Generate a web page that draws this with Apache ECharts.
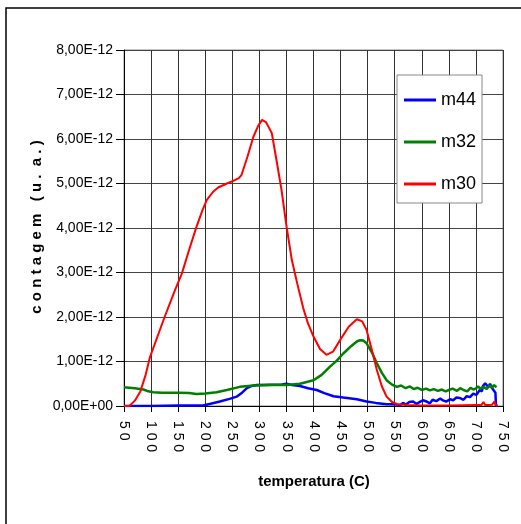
<!DOCTYPE html>
<html>
<head>
<meta charset="utf-8">
<script src="https://cdn.jsdelivr.net/npm/echarts@6/dist/echarts.min.js"></script>
<style>html,body{margin:0;padding:0;background:#fff}#c{width:521px;height:524px}</style>
</head>
<body>
<div id="c"></div>
<script>
// values in units of 1E-12
const seriesNames = ['m44', 'm32', 'm30'];
const m44T = [50,100,150,196,210,227,245,258,268,277,286,295,320,340,350,360,375,390,406,420,437,455,480,498,515,535,550,560,566,570,577,584,590,595,602,609,615,620,627,634,640,645,652,658,664,670,677,683,689,695,701,707,711,713,717,720,723,726,730,733,736,737,740];
const m44V = [0,0,0.01,0.01,0.05,0.1,0.16,0.21,0.3,0.4,0.45,0.47,0.48,0.48,0.5,0.47,0.45,0.4,0.36,0.29,0.22,0.19,0.15,0.1,0.07,0.04,0.04,0.02,0.07,0.03,0.09,0.1,0.05,0.08,0.13,0.1,0.06,0.14,0.11,0.17,0.12,0.1,0.15,0.13,0.19,0.18,0.14,0.22,0.2,0.28,0.25,0.36,0.33,0.45,0.51,0.54,0.42,0.5,0.4,0.35,0.3,0.02,0];
const m32T = [50,60,70,86,95,104,120,153,170,184,200,221,240,264,290,326,350,375,400,415,430,443,455,470,480,486,492,498,508,517,526,535,545,554,562,570,578,585,592,600,608,615,622,630,637,644,650,657,665,671,677,684,690,696,700,704,708,714,720,725,730,733,736,738];
const m32V = [0.42,0.41,0.4,0.37,0.33,0.31,0.3,0.3,0.29,0.27,0.28,0.31,0.36,0.43,0.46,0.47,0.47,0.5,0.58,0.7,0.88,1.02,1.18,1.35,1.45,1.48,1.47,1.41,1.2,0.96,0.75,0.58,0.48,0.43,0.46,0.4,0.44,0.38,0.41,0.36,0.39,0.35,0.38,0.34,0.37,0.33,0.36,0.39,0.34,0.4,0.36,0.33,0.41,0.37,0.4,0.44,0.39,0.43,0.38,0.46,0.41,0.47,0.43,0.42];
const m30T = [50,60,70,80,90,98,110,125,144,157,170,184,195,203,215,224,240,252,262,267,278,289,298,305,312,318,323,332,341,350,360,370,381,390,400,412,424,436,449,465,480,490,498,508,517,526,535,545,555,575,600,650,700,710,714,717,722,730,734,736,738,740];
const m30V = [0,0,0.12,0.32,0.7,1.1,1.5,2.0,2.6,2.98,3.5,4.03,4.4,4.63,4.82,4.91,5.0,5.06,5.12,5.19,5.6,6.05,6.3,6.43,6.38,6.25,6.13,5.5,4.85,4.05,3.28,2.75,2.2,1.85,1.56,1.28,1.15,1.22,1.48,1.78,1.95,1.9,1.71,1.25,0.81,0.45,0.21,0.09,0.04,0.02,0.01,0.01,0.02,0.02,0.09,0.02,0.02,0.03,0.1,0.03,0.01,0];
const xTicks = [50,100,150,200,250,300,350,400,450,500,550,600,650,700,750];
const yTicks = [0,1,2,3,4,5,6,7,8];

const pairs = (t, v) => t.map((x, i) => [x, v[i]]);
const font = 'Arial, "Liberation Sans", sans-serif';

const chart = echarts.init(document.getElementById('c'), null, {renderer: 'canvas'});
chart.setOption({
  animation: false,
  backgroundColor: '#fff',
  grid: {left: 124, top: 50, right: 18, bottom: 118, show: true, borderColor: '#888', borderWidth: 1, backgroundColor: 'transparent'},
  graphic: [
    {type: 'rect', z: -10, shape: {x: 6, y: 8, width: 700, height: 700}, style: {fill: 'none', stroke: '#000', lineWidth: 1.5}},
    {type: 'text', x: 37, y: 227, rotation: Math.PI / 2, style: {text: 'c o n t a g e m   ( u .  a . )', font: 'bold 15px ' + font, fill: '#000', align: 'center', verticalAlign: 'middle'}},
    {type: 'text', x: 314, y: 482, style: {text: 'temperatura (C)', font: 'bold 15px ' + font, fill: '#000', align: 'center', verticalAlign: 'middle'}}
  ],
  legend: {
    data: seriesNames,
    orient: 'vertical', left: 397, top: 75,
    padding: [16, 6, 10, 7],
    icon: 'rect',
    itemWidth: 32, itemHeight: 3, itemGap: 24,
    backgroundColor: '#fff', borderColor: '#888', borderWidth: 1, borderRadius: 0,
    textStyle: {fontSize: 18, fontFamily: font, color: '#000', lineHeight: 18}
  },
  xAxis: {
    type: 'value', min: xTicks[0], max: xTicks[xTicks.length - 1], interval: 50,
    axisLine: {show: true, onZero: false, lineStyle: {color: '#000', width: 1}},
    axisTick: {show: true, length: 6, lineStyle: {color: '#000'}},
    splitLine: {show: true, lineStyle: {color: '#333', width: 1}},
    axisLabel: {rotate: -90, margin: 15, fontSize: 14, fontFamily: font, color: '#000',
      formatter: v => String(v).split('').join(' ')}
  },
  yAxis: {
    type: 'value', min: yTicks[0], max: yTicks[yTicks.length - 1], interval: 1,
    axisLine: {show: true, lineStyle: {color: '#000', width: 1}},
    axisTick: {show: true, length: 8, lineStyle: {color: '#000'}},
    splitLine: {show: true, lineStyle: {color: '#444', width: 1}},
    axisLabel: {margin: 11, fontSize: 14, fontFamily: font, color: '#000',
      formatter: v => v === 0 ? '0,00E+00' : v.toFixed(2).replace('.', ',') + 'E-12'}
  },
  series: [
    {name: 'm44', type: 'line', symbol: 'none', data: pairs(m44T, m44V), lineStyle: {color: '#0000FF', width: 2.5}, itemStyle: {color: '#0000FF'}},
    {name: 'm32', type: 'line', symbol: 'none', data: pairs(m32T, m32V), lineStyle: {color: '#008000', width: 2.5}, itemStyle: {color: '#008000'}},
    {name: 'm30', type: 'line', symbol: 'none', data: pairs(m30T, m30V), lineStyle: {color: '#FF0000', width: 2}, itemStyle: {color: '#FF0000'}}
  ]
});
</script>
</body>
</html>
